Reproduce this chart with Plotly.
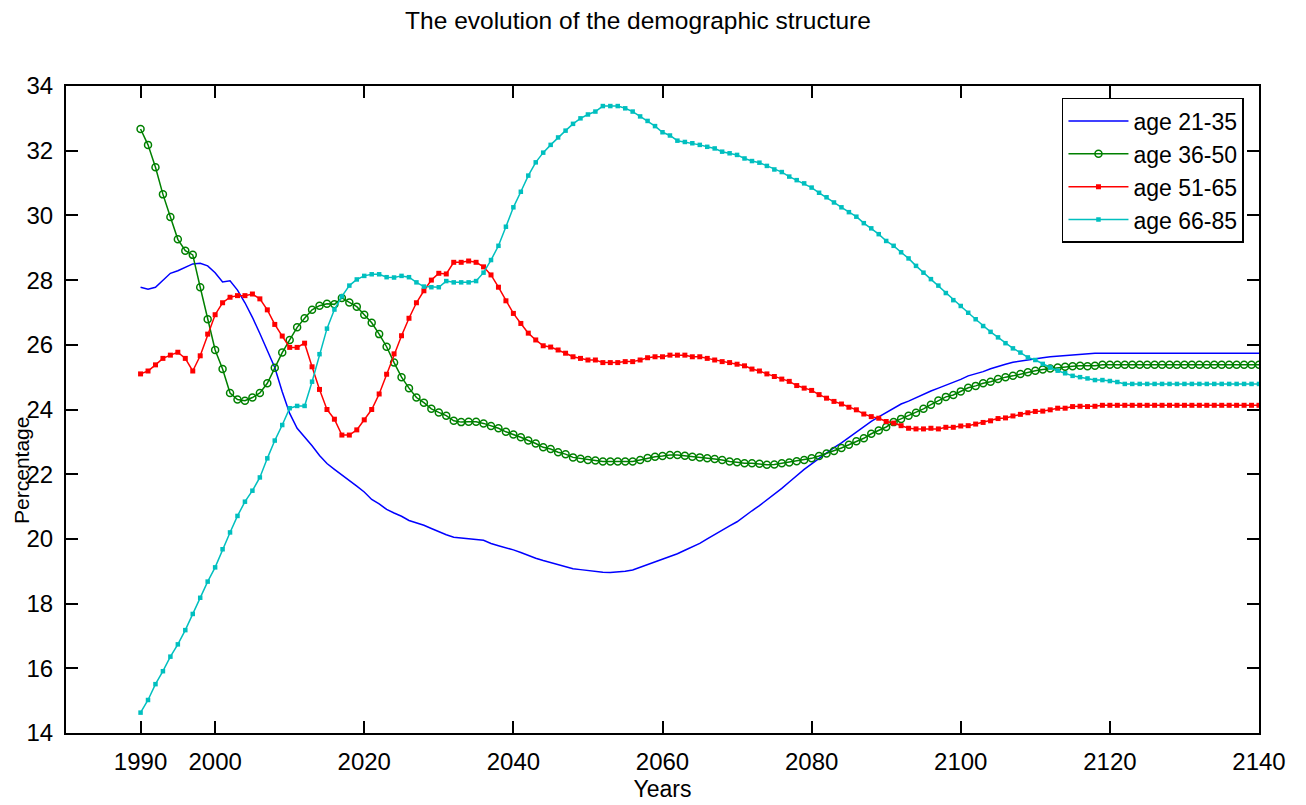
import plotly.graph_objects as go

years = list(range(1990, 2141))

age_21_35 = [
    27.78, 27.72, 27.78, 28.00, 28.21, 28.29, 28.40, 28.50, 28.52, 28.44,  # 1990-1999
    28.23, 27.94, 27.98, 27.69, 27.30, 26.85, 26.35, 25.85, 25.30, 24.55,  # 2000-2009
    23.88, 23.42, 23.16, 22.88, 22.58, 22.33, 22.15, 21.98, 21.82, 21.63,  # 2010-2019
    21.45, 21.22, 21.08, 20.91, 20.80, 20.70, 20.57, 20.50, 20.42, 20.32,  # 2020-2029
    20.22, 20.13, 20.05, 20.02, 20.01, 19.98, 19.96, 19.86, 19.79, 19.73,  # 2030-2039
    19.66, 19.58, 19.48, 19.40, 19.33, 19.27, 19.20, 19.13, 19.08, 19.05,  # 2040-2049
    19.02, 19.00, 18.97, 18.96, 18.97, 19.00, 19.04, 19.12, 19.21, 19.30,  # 2050-2059
    19.38, 19.46, 19.54, 19.65, 19.76, 19.86, 20.00, 20.14, 20.26, 20.40,  # 2060-2069
    20.53, 20.71, 20.87, 21.03, 21.20, 21.38, 21.56, 21.76, 21.96, 22.15,  # 2070-2079
    22.32, 22.49, 22.66, 22.82, 22.97, 23.14, 23.30, 23.47, 23.63, 23.77,  # 2080-2089
    23.90, 24.03, 24.17, 24.26, 24.37, 24.47, 24.57, 24.66, 24.75, 24.83,  # 2090-2099
    24.93, 25.04, 25.10, 25.17, 25.26, 25.34, 25.40, 25.46, 25.50, 25.53,  # 2100-2109
    25.56, 25.60, 25.63, 25.65, 25.67, 25.70, 25.71, 25.72, 25.74, 25.74,  # 2110-2119
    25.74, 25.74, 25.74, 25.74, 25.74, 25.74, 25.74, 25.74, 25.74, 25.74,  # 2120-2129
    25.74, 25.74, 25.74, 25.74, 25.74, 25.74, 25.74, 25.74, 25.74, 25.74,  # 2130-2139
    25.74,                                                                  # 2140
]

age_36_50 = [
    32.67, 32.18, 31.49, 30.65, 29.95, 29.26, 28.91, 28.78, 27.78, 26.79,
    25.84, 25.25, 24.51, 24.31, 24.27, 24.37, 24.51, 24.81, 25.29, 25.76,
    26.15, 26.54, 26.82, 27.08, 27.21, 27.27, 27.25, 27.45, 27.31, 27.18,
    26.93, 26.68, 26.33, 25.94, 25.45, 25.00, 24.66, 24.37, 24.21, 24.02,
    23.91, 23.81, 23.65, 23.61, 23.62, 23.62, 23.57, 23.49, 23.42, 23.31,
    23.23, 23.14, 23.04, 22.95, 22.83, 22.78, 22.68, 22.62, 22.52, 22.48,
    22.44, 22.42, 22.39, 22.39, 22.39, 22.39, 22.39, 22.44, 22.50, 22.54,
    22.56, 22.59, 22.59, 22.57, 22.54, 22.52, 22.49, 22.47, 22.44, 22.39,
    22.37, 22.34, 22.34, 22.32, 22.29, 22.30, 22.34, 22.36, 22.40, 22.44,
    22.49, 22.56, 22.64, 22.72, 22.81, 22.91, 23.02, 23.11, 23.25, 23.35,
    23.46, 23.61, 23.71, 23.81, 23.90, 24.02, 24.15, 24.28, 24.39, 24.45,
    24.56, 24.67, 24.73, 24.81, 24.86, 24.94, 25.00, 25.04, 25.10, 25.15,
    25.20, 25.24, 25.27, 25.30, 25.32, 25.34, 25.35, 25.34, 25.35, 25.38,
    25.38, 25.38, 25.38, 25.38, 25.38, 25.38, 25.38, 25.38, 25.38, 25.38,
    25.38, 25.38, 25.38, 25.38, 25.38, 25.38, 25.38, 25.38, 25.38, 25.38,
    25.38,
]

age_51_65 = [
    25.10, 25.19, 25.38, 25.58, 25.68, 25.77, 25.58, 25.19, 25.66, 26.33,
    26.93, 27.30, 27.47, 27.52, 27.52, 27.57, 27.42, 27.08, 26.63, 26.27,
    25.92, 25.92, 26.05, 25.32, 24.62, 24.00, 23.70, 23.21, 23.21, 23.37,
    23.68, 24.00, 24.48, 25.09, 25.72, 26.28, 26.82, 27.30, 27.67, 28.00,
    28.21, 28.19, 28.55, 28.55, 28.59, 28.55, 28.41, 28.16, 27.78, 27.36,
    26.97, 26.66, 26.36, 26.15, 25.97, 25.93, 25.84, 25.74, 25.63, 25.58,
    25.53, 25.53, 25.45, 25.45, 25.45, 25.48, 25.48, 25.53, 25.60, 25.63,
    25.63, 25.68, 25.68, 25.68, 25.63, 25.63, 25.58, 25.53, 25.48, 25.45,
    25.40, 25.35, 25.25, 25.19, 25.10, 25.02, 24.94, 24.87, 24.74, 24.66,
    24.59, 24.46, 24.35, 24.25, 24.17, 24.07, 23.99, 23.86, 23.78, 23.73,
    23.63, 23.58, 23.50, 23.42, 23.40, 23.40, 23.42, 23.40, 23.45, 23.45,
    23.49, 23.50, 23.55, 23.60, 23.65, 23.72, 23.74, 23.80, 23.85, 23.90,
    23.94, 23.95, 23.99, 24.04, 24.04, 24.09, 24.10, 24.09, 24.10, 24.13,
    24.13, 24.13, 24.13, 24.13, 24.13, 24.13, 24.13, 24.13, 24.13, 24.13,
    24.13, 24.13, 24.13, 24.13, 24.13, 24.13, 24.13, 24.13, 24.13, 24.13,
    24.13,
]

age_66_85 = [
    14.63, 15.02, 15.51, 15.91, 16.36, 16.74, 17.18, 17.68, 18.18, 18.68,
    19.12, 19.68, 20.20, 20.71, 21.15, 21.49, 21.90, 22.49, 23.04, 23.52,
    24.04, 24.11, 24.11, 24.86, 25.71, 26.50, 27.09, 27.50, 27.83, 28.02,
    28.13, 28.18, 28.18, 28.09, 28.08, 28.13, 28.09, 27.93, 27.80, 27.78,
    27.78, 27.97, 27.93, 27.93, 27.93, 27.97, 28.23, 28.62, 29.06, 29.65,
    30.25, 30.73, 31.23, 31.64, 31.94, 32.18, 32.41, 32.62, 32.83, 33.00,
    33.12, 33.21, 33.38, 33.38, 33.38, 33.31, 33.21, 33.06, 32.92, 32.76,
    32.57, 32.47, 32.31, 32.27, 32.23, 32.18, 32.12, 32.07, 31.97, 31.92,
    31.87, 31.76, 31.68, 31.63, 31.53, 31.42, 31.34, 31.20, 31.09, 30.99,
    30.86, 30.70, 30.56, 30.40, 30.25, 30.10, 29.96, 29.76, 29.60, 29.42,
    29.21, 29.06, 28.86, 28.67, 28.44, 28.23, 28.03, 27.83, 27.60, 27.38,
    27.20, 26.99, 26.79, 26.58, 26.40, 26.23, 26.05, 25.89, 25.76, 25.61,
    25.53, 25.41, 25.30, 25.20, 25.12, 25.04, 25.00, 24.96, 24.91, 24.91,
    24.88, 24.85, 24.79, 24.79, 24.79, 24.79, 24.79, 24.79, 24.79, 24.79,
    24.79, 24.79, 24.79, 24.79, 24.79, 24.79, 24.79, 24.79, 24.79, 24.79,
    24.79,
]

x_tick_vals = [1990, 2000, 2020, 2040, 2060, 2080, 2100, 2120, 2140]
y_tick_vals = [14, 16, 18, 20, 22, 24, 26, 28, 30, 32, 34]

FONT = "Liberation Sans, Arial, sans-serif"

fig = go.Figure()
fig.add_trace(go.Scatter(
    x=years, y=age_21_35, mode="lines", name="age 21-35",
    line=dict(color="#0000FF", width=1.5),
))
fig.add_trace(go.Scatter(
    x=years, y=age_36_50, mode="lines+markers", name="age 36-50",
    line=dict(color="#008000", width=1.5),
    marker=dict(symbol="circle-open", size=7, color="#008000", line=dict(width=1.5)),
))
fig.add_trace(go.Scatter(
    x=years, y=age_51_65, mode="lines+markers", name="age 51-65",
    line=dict(color="#FF0000", width=1.5),
    marker=dict(symbol="square", size=5, color="#FF0000"),
))
fig.add_trace(go.Scatter(
    x=years, y=age_66_85, mode="lines+markers", name="age 66-85",
    line=dict(color="#00BFBF", width=1.5),
    marker=dict(symbol="square", size=4.5, color="#00BFBF"),
))

axis_common = dict(
    showline=True, linecolor="black", linewidth=2, mirror="ticks",
    ticks="inside", ticklen=12, tickwidth=1.5, tickcolor="black",
    showgrid=False, zeroline=False, automargin=False,
    tickfont=dict(family=FONT, size=24, color="black"),
)

# page has an 8px body margin, so the figure is 8px smaller than the window
fig.update_layout(
    width=1298, height=797,
    paper_bgcolor="white", plot_bgcolor="white",
    margin=dict(l=58, r=47, t=78, b=72),
    font=dict(family=FONT, color="black"),
    title=dict(text="The evolution of the demographic structure",
               x=630 / 1298, xanchor="center", y=1 - 12 / 797, yanchor="middle",
               font=dict(family=FONT, size=24.5, color="black")),
    xaxis=dict(range=[1980, 2140], tickvals=x_tick_vals, ticklabelstandoff=6,
               title=dict(text="Years", font=dict(family=FONT, size=23), standoff=7),
               **axis_common),
    yaxis=dict(range=[14, 34], tickvals=y_tick_vals, ticklabelstandoff=6,
               **axis_common),
    annotations=[dict(text="Percentage", textangle=-90, showarrow=False,
                      xref="paper", yref="paper", x=-0.0369, y=0.4065,
                      xanchor="center", yanchor="middle",
                      font=dict(family=FONT, size=21, color="black"))],
    legend=dict(x=0.9874, xanchor="right", y=0.9815, yanchor="top",
                bgcolor="white", bordercolor="black", borderwidth=1.5,
                font=dict(family=FONT, size=23, color="black"),
                tracegroupgap=0, itemwidth=60),
    showlegend=True,
)

fig.write_html("out.html")
